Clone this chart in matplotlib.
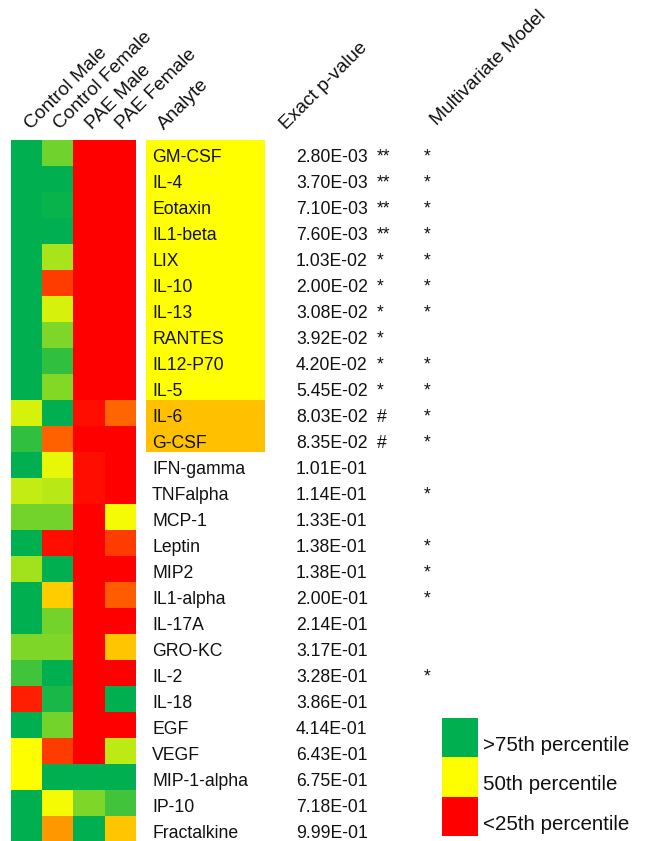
import matplotlib
matplotlib.use("Agg")
import matplotlib.pyplot as plt
import numpy as np
from matplotlib.colors import LinearSegmentedColormap
from matplotlib.patches import Rectangle

plt.rcParams['font.family'] = ['Liberation Sans', 'DejaVu Sans']

# ---- data -------------------------------------------------------------
analytes = ["GM-CSF", "IL-4", "Eotaxin", "IL1-beta", "LIX", "IL-10", "IL-13",
            "RANTES", "IL12-P70", "IL-5", "IL-6", "G-CSF", "IFN-gamma",
            "TNFalpha", "MCP-1", "Leptin", "MIP2", "IL1-alpha", "IL-17A",
            "GRO-KC", "IL-2", "IL-18", "EGF", "VEGF", "MIP-1-alpha", "IP-10",
            "Fractalkine"]

groups = ["Control Male", "Control Female", "PAE Male", "PAE Female"]

# percentile position of each group mean (0 = <25th, 0.5 = 50th, 1 = >75th)
control_male = [1, 1, 1, 1, 1, 1, 1, 1, 1, 1, 0.58, 0.90, 1, 0.62, 0.77,
                1, 0.68, 1, 1, 0.75, 0.87, 0.06, 1, 0.50, 0.50, 1, 1]
control_female = [0.78, 1, 0.98, 1, 0.67, 0.12, 0.58, 0.75, 0.90, 0.74, 1,
                  0.19, 0.55, 0.64, 0.77, 0.03, 1, 0.40, 0.77, 0.75, 1, 0.95,
                  0.77, 0.12, 1, 0.52, 0.30]
pae_male = [0, 0, 0, 0, 0, 0, 0, 0, 0, 0, 0.03, 0, 0.03, 0.03, 0, 0, 0, 0,
            0, 0, 0, 0, 0, 0, 1, 0.75, 1]
pae_female = [0, 0, 0, 0, 0, 0, 0, 0, 0, 0, 0.20, 0, 0, 0, 0.52, 0.12, 0,
              0.18, 0, 0.39, 0, 1, 0, 0.63, 1, 0.87, 0.39]

p_values = [2.80e-03, 3.70e-03, 7.10e-03, 7.60e-03, 1.03e-02, 2.00e-02,
            3.08e-02, 3.92e-02, 4.20e-02, 5.45e-02, 8.03e-02, 8.35e-02,
            1.01e-01, 1.14e-01, 1.33e-01, 1.38e-01, 1.38e-01, 2.00e-01,
            2.14e-01, 3.17e-01, 3.28e-01, 3.86e-01, 4.14e-01, 6.43e-01,
            6.75e-01, 7.18e-01, 9.99e-01]

significance = ["**"] * 4 + ["*"] * 6 + ["#"] * 2 + [""] * 15

multivariate = ["*", "*", "*", "*", "*", "*", "*", "", "*", "*", "*", "*",
                "", "*", "", "*", "*", "*", "", "", "*", "", "", "", "", "", ""]

legend_labels = [">75th percentile", "50th percentile", "<25th percentile"]
legend_levels = [1.0, 0.5, 0.0]

# ---- layout -----------------------------------------------------------
W, H = 649, 841
fig = plt.figure(figsize=(W / 100, H / 100), dpi=100)

row_h = 26.0
top = 140
n = len(analytes)
fs = 12.7
hfs = 13.8
ink = "#111111"


def fx(px):
    return px / W


def fy(py):
    return 1 - py / H


cmap = LinearSegmentedColormap.from_list("tercile", ["#FF0000", "#FFFF00", "#00B050"])
grid = np.column_stack([control_male, control_female, pae_male, pae_female])

# heatmap
hm = fig.add_axes([fx(10.7), fy(top + n * row_h), fx(124), n * row_h / H])
hm.imshow(grid, cmap=cmap, vmin=0, vmax=1, aspect="auto", interpolation="nearest")
hm.set_axis_off()

# text table overlay in pixel coordinates
ov = fig.add_axes([0, 0, 1, 1], zorder=2)
ov.set_xlim(0, W)
ov.set_ylim(H, 0)
ov.set_axis_off()
ov.patch.set_alpha(0)

for i, name in enumerate(analytes):
    y0 = top + i * row_h
    if significance[i] in ("**", "*"):
        ov.add_patch(Rectangle((146, y0), 119, row_h, color="#FFFF00", lw=0))
    elif significance[i] == "#":
        ov.add_patch(Rectangle((146, y0), 119, row_h, color="#FFC000", lw=0))
    yb = y0 + 21.5
    ov.text(152, yb, name, fontsize=fs, color=ink, va="baseline", ha="left")
    ov.text(296, yb, f"{p_values[i]:.2E}", fontsize=fs, color=ink,
            va="baseline", ha="left")
    if significance[i]:
        ov.text(377, yb, significance[i], fontsize=fs, color=ink,
                va="baseline", ha="left")
    if multivariate[i]:
        ov.text(427, yb, multivariate[i], fontsize=fs, color=ink,
                va="baseline", ha="center")

# rotated column headers
header_x = [31, 60, 92, 122]
for x, g in zip(header_x, groups):
    ov.text(x, 130, g, fontsize=hfs, color=ink, rotation=45,
            rotation_mode="anchor", ha="left", va="baseline")
ov.text(164, 130, "Analyte", fontsize=hfs, color=ink, rotation=45,
        rotation_mode="anchor", ha="left", va="baseline")
ov.text(286, 130, "Exact p-value", fontsize=hfs, color=ink, rotation=45,
        rotation_mode="anchor", ha="left", va="baseline")
ov.text(437, 126, "Multivariate Model", fontsize=hfs, color=ink, rotation=45,
        rotation_mode="anchor", ha="left", va="baseline")

# legend
lg_top, lg_bot = 718, 836
lg = fig.add_axes([fx(442), fy(lg_bot), fx(36), (lg_bot - lg_top) / H])
lg.imshow(np.array(legend_levels).reshape(-1, 1), cmap=cmap, vmin=0, vmax=1,
          aspect="auto", interpolation="nearest")
lg.set_axis_off()
step = (lg_bot - lg_top) / len(legend_labels)
for k, lab in enumerate(legend_labels):
    ov.text(483, lg_top + k * step + 33, lab, fontsize=14.8, color=ink,
            va="baseline", ha="left")

fig.savefig("out.png", dpi=100)
